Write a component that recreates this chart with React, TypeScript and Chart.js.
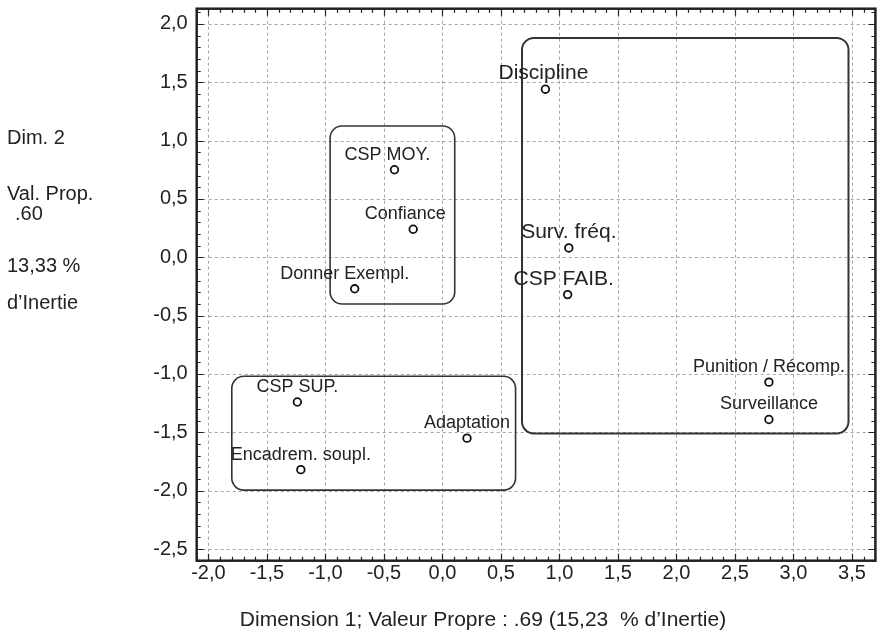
import { useEffect, useRef } from "react";
import { Chart, registerables } from "chart.js";

Chart.register(...registerables);

// ---- data ----
const categories = [
  "Discipline",
  "Surv. fréq.",
  "CSP FAIB.",
  "Punition / Récomp.",
  "Surveillance",
  "CSP MOY.",
  "Confiance",
  "Donner Exempl.",
  "CSP SUP.",
  "Adaptation",
  "Encadrem. soupl.",
];
const dim1 = [0.88, 1.08, 1.07, 2.79, 2.79, -0.41, -0.25, -0.75, -1.24, 0.21, -1.21];
const dim2 = [1.44, 0.08, -0.32, -1.07, -1.39, 0.75, 0.24, -0.27, -1.24, -1.55, -1.82];

// group enclosures (data units)
const boxLeft = [-0.96, 0.68, -1.8];
const boxRight = [0.105, 3.47, 0.625];
const boxTop = [1.125, 1.88, -1.02];
const boxBottom = [-0.4, -1.51, -1.995];

const xMin = -2.1;
const xMax = 3.7;
const yMin = -2.6;
const yMax = 2.13;
const tickStep = 0.5;
const minorStep = 0.1;

const xTitle = "Dimension 1; Valeur Propre : .69 (15,23  % d’Inertie)";
const sideLines = ["Dim. 2", "Val. Prop.", ".60", "13,33 %", "d’Inertie"];

// ---- styles ----
const FONT = "'Liberation Sans', Arial, Helvetica, sans-serif";
const TEXT = "#222";
const largeLabels = new Set(["Discipline", "Surv. fréq.", "CSP FAIB."]);
const labelDx: Record<string, number> = {
  Discipline: -2,
  "CSP FAIB.": -4,
  "CSP MOY.": -7,
  Confiance: -8,
  "Donner Exempl.": -10,
};
const sideX = [7, 7, 15, 7, 7];
const sideBaseline = [144, 200, 220, 272, 309];

const fmt = (v: number) => {
  const n = Math.round(v * 10) / 10;
  return (n === 0 ? 0 : n).toFixed(1).replace(".", ",");
};

const decor = {
  id: "decor",
  beforeDatasetsDraw(chart: any) {
    const { ctx, chartArea: a } = chart;
    const x = chart.scales.x;
    const y = chart.scales.y;
    ctx.save();
    ctx.strokeStyle = "#a4a4a4";
    ctx.lineWidth = 1;
    ctx.setLineDash([3, 3]);
    x.ticks.forEach((t: any) => {
      const px = Math.round(x.getPixelForValue(t.value)) + 0.5;
      ctx.beginPath();
      ctx.moveTo(px, a.top);
      ctx.lineTo(px, a.bottom);
      ctx.stroke();
    });
    y.ticks.forEach((t: any) => {
      const py = Math.round(y.getPixelForValue(t.value)) + 0.5;
      ctx.beginPath();
      ctx.moveTo(a.left, py);
      ctx.lineTo(a.right, py);
      ctx.stroke();
    });
    ctx.setLineDash([]);
    ctx.strokeStyle = "#333";
    for (let i = 0; i < boxLeft.length; i++) {
      const l = x.getPixelForValue(boxLeft[i]);
      const r = x.getPixelForValue(boxRight[i]);
      const t = y.getPixelForValue(boxTop[i]);
      const b = y.getPixelForValue(boxBottom[i]);
      ctx.lineWidth = i === 1 ? 2 : 1.6;
      ctx.beginPath();
      ctx.roundRect(l, t, r - l, b - t, 12);
      ctx.stroke();
    }
    ctx.restore();
  },
  afterDatasetsDraw(chart: any) {
    const { ctx } = chart;
    const meta = chart.getDatasetMeta(0);
    ctx.save();
    ctx.fillStyle = TEXT;
    ctx.textAlign = "center";
    ctx.textBaseline = "alphabetic";
    meta.data.forEach((pt: any, i: number) => {
      const name = categories[i];
      const size = largeLabels.has(name) ? 21 : 18;
      ctx.font = `${size}px ${FONT}`;
      ctx.fillText(name, pt.x + (labelDx[name] || 0), pt.y - 10);
    });
    ctx.restore();
  },
  afterDraw(chart: any) {
    const { ctx, chartArea: a } = chart;
    const x = chart.scales.x;
    const y = chart.scales.y;
    ctx.save();
    // minor / major inward ticks
    ctx.strokeStyle = "#222";
    ctx.lineWidth = 1.2;
    const isMajor = (v: number) => Math.abs(v / tickStep - Math.round(v / tickStep)) < 1e-6;
    for (let k = Math.ceil(xMin / minorStep); k <= Math.floor(xMax / minorStep); k++) {
      const v = k * minorStep;
      const px = Math.round(x.getPixelForValue(v)) + 0.5;
      const len = isMajor(v) ? 7 : 4;
      ctx.beginPath();
      ctx.moveTo(px, a.bottom);
      ctx.lineTo(px, a.bottom - len);
      ctx.moveTo(px, a.top);
      ctx.lineTo(px, a.top + len);
      ctx.stroke();
    }
    for (let k = Math.ceil(yMin / minorStep); k <= Math.floor(yMax / minorStep); k++) {
      const v = k * minorStep;
      const py = Math.round(y.getPixelForValue(v)) + 0.5;
      const len = isMajor(v) ? 7 : 4;
      ctx.beginPath();
      ctx.moveTo(a.left, py);
      ctx.lineTo(a.left + len, py);
      ctx.moveTo(a.right, py);
      ctx.lineTo(a.right - len, py);
      ctx.stroke();
    }
    // frame
    ctx.lineWidth = 2.5;
    ctx.strokeStyle = "#222";
    ctx.strokeRect(a.left, a.top, a.right - a.left, a.bottom - a.top);

    // side text
    ctx.fillStyle = TEXT;
    ctx.font = `20px ${FONT}`;
    ctx.textAlign = "left";
    ctx.textBaseline = "alphabetic";
    sideLines.forEach((s, i) => ctx.fillText(s, sideX[i], sideBaseline[i]));

    // x title
    ctx.font = `21px ${FONT}`;
    ctx.textAlign = "center";
    ctx.fillText(xTitle, 483, 626);
    ctx.restore();
  },
};

export default function App() {
  const ref = useRef<HTMLCanvasElement | null>(null);
  useEffect(() => {
    document.body.style.margin = "0";
    const canvas = ref.current;
    if (!canvas) return;
    const points = dim1.map((v, i) => ({ x: v, y: dim2[i] }));
    const chart = new Chart(canvas, {
      type: "scatter",
      data: {
        labels: categories,
        datasets: [
          {
            data: points,
            pointRadius: 3.8,
            pointHoverRadius: 3.8,
            pointBorderWidth: 1.8,
            borderColor: "#111",
            backgroundColor: "rgba(255,255,255,0)",
            pointStyle: "circle",
          },
        ],
      },
      options: {
        responsive: false,
        animation: false,
        devicePixelRatio: 1,
        layout: { padding: { top: 8.7, right: 3.3, left: 0, bottom: 0 } },
        plugins: { legend: { display: false }, tooltip: { enabled: false } },
        events: [],
        scales: {
          x: {
            type: "linear",
            min: xMin,
            max: xMax,
            grid: { display: false, drawTicks: false },
            border: { display: false },
            ticks: {
              stepSize: tickStep,
              includeBounds: false,
              padding: 1,
              color: TEXT,
              font: { size: 20, family: FONT },
              callback: (v: any) => fmt(Number(v)),
            },
            afterFit: (s: any) => {
              s.height = 71.3;
              s.paddingLeft = 0;
              s.paddingRight = 0;
            },
          },
          y: {
            type: "linear",
            min: yMin,
            max: yMax,
            grid: { display: false, drawTicks: false },
            border: { display: false },
            ticks: {
              stepSize: tickStep,
              includeBounds: false,
              padding: 9,
              color: TEXT,
              font: { size: 20, family: FONT },
              callback: (v: any) => fmt(Number(v)),
            },
            afterFit: (s: any) => {
              s.width = 196.7;
              s.paddingTop = 0;
              s.paddingBottom = 0;
            },
          },
        },
      },
      plugins: [decor],
    });
    return () => chart.destroy();
  }, []);
  return (
    <div style={{ width: 881, height: 632, background: "#fff" }}>
      <canvas ref={ref} width={881} height={632} style={{ display: "block" }} />
    </div>
  );
}
